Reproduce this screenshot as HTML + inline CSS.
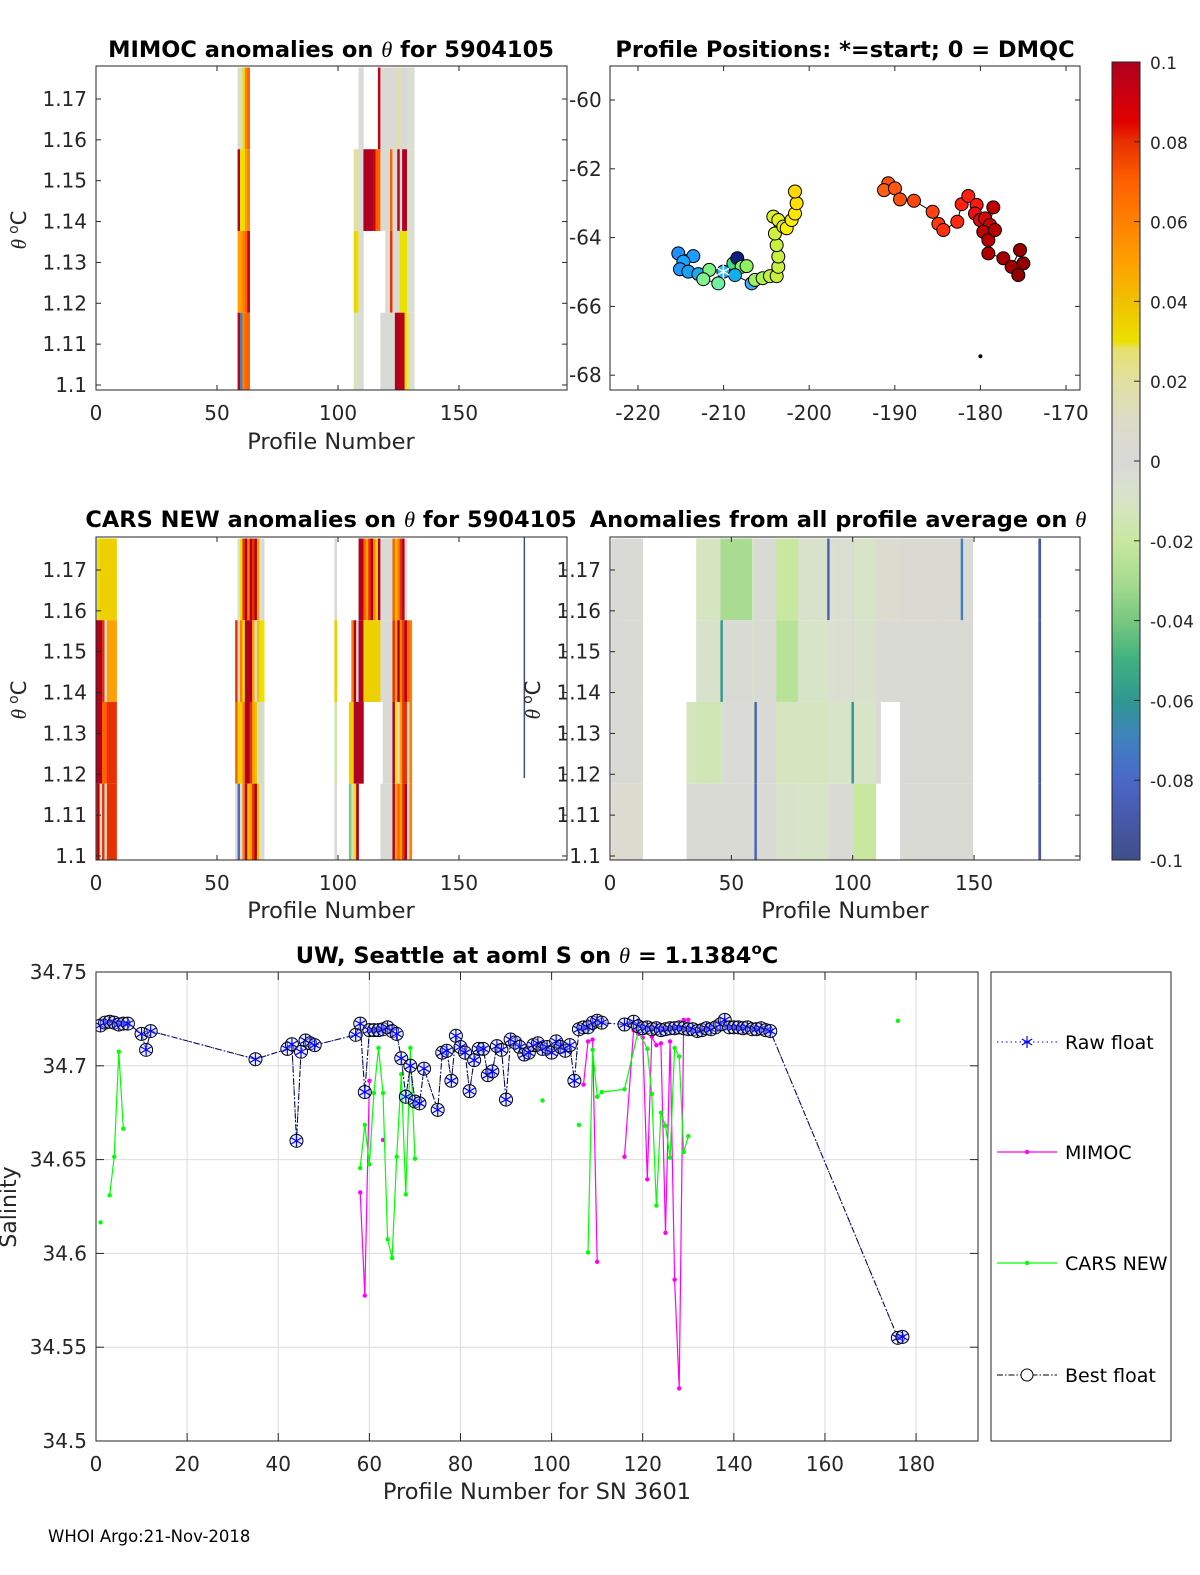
<!DOCTYPE html>
<html><head><meta charset="utf-8"><style>
html,body{margin:0;padding:0;background:#fff;}
svg{display:block;font-family:"DejaVu Sans","Liberation Sans",sans-serif;}
</style></head><body>
<svg id="fig" xmlns="http://www.w3.org/2000/svg" width="1200" height="1575" viewBox="0 0 1200 1575">
<defs>
<clipPath id="c1"><rect x="96" y="66" width="471" height="324"/></clipPath>
<clipPath id="c3"><rect x="96" y="537" width="471" height="323"/></clipPath>
<clipPath id="c4"><rect x="610" y="537" width="470" height="323"/></clipPath>
<clipPath id="c5"><rect x="96" y="972" width="882" height="469"/></clipPath>
<linearGradient id="cbgrad" x1="0" y1="1" x2="0" y2="0"></linearGradient>
</defs>
</svg>
<script>
// ---------- DATA ----------
const rowCenters = [1.1677, 1.1477, 1.1277, 1.1077];
const N = null;
const mimocRuns = [
 [59,59,0.008,0.1,0.05,0.095],[60,60,0.008,0.03,0.05,-0.07],[61,61,0.03,0.03,0.06,0.06],
 [62,62,0.06,0.05,0.07,0.07],[63,63,0.07,0.06,0.09,0.07],
 [107,107,N,0.02,0.035,-0.015],[108,108,N,0.02,0.03,-0.01],[109,110,0.002,0.002,0.002,0.002],
 [111,114,N,0.1,N,N],[115,115,N,0.09,N,N],[116,116,N,0.07,N,N],[117,117,0.095,0.07,N,N],
 [118,119,0.003,0.003,N,0.003],[120,121,0.003,0.003,0.003,0.003],[122,122,0.003,0.07,0.08,0.003],
 [123,123,0.005,0.003,0.003,0.003],[124,124,0.003,0.003,0.003,0.1],[125,125,0.02,0.1,0.003,0.1],
 [126,126,0.01,0.003,0.03,0.095],[127,127,0.003,0.1,0.03,0.1],[128,128,0.003,0.1,0.03,0.03],
 [129,129,-0.005,-0.005,-0.005,0.025],[130,131,-0.005,-0.005,-0.005,-0.005]
];
const carsRuns = [
 [0,0,0.012,0.1,0.1,0.08],[1,1,0.03,0.1,0.1,0.1],[2,2,0.035,0.1,0.1,0.01],[3,3,0.035,0.08,0.07,0.08],
 [4,4,0.035,0.01,0.07,0.01],[5,8,0.035,0.05,0.08,0.08],
 [58,58,N,0.08,0.07,0.005],[59,59,-0.005,0.005,0.035,-0.08],[60,60,0.03,0.06,0.035,0.005],
 [61,61,0.08,0.03,0.06,0.06],[62,62,0.1,0.1,0.1,0.1],[63,63,0.06,0.1,0.1,0.04],[64,64,0.1,0.1,0.08,0.05],
 [65,65,0.08,0.05,0.05,0.08],[66,66,0.1,0.01,0.04,0.1],[67,67,0.05,0.04,0.01,0.04],
 [68,68,-0.01,0.03,-0.02,-0.01],[69,69,0.001,0.03,0.001,0.005],
 [99,99,0.003,0.035,-0.015,0.003],
 [105,105,N,N,0.035,-0.04],[106,106,N,0.06,0.035,0.003],[107,107,N,0.1,0.1,0.03],[108,108,N,0.003,0.1,0.1],
 [109,110,0.1,0.1,0.1,N],[111,111,0.07,0.035,N,N],[112,112,0.05,0.035,N,N],[113,113,0.08,0.035,N,N],
 [114,114,0.1,0.035,N,N],[115,115,0.06,0.035,N,N],[116,116,0.03,0.035,N,N],[117,117,0.1,0.035,N,N],
 [118,118,0.003,0.003,N,0.003],[119,122,0.003,0.003,0.003,0.003],
 [123,123,0.07,0.08,0.1,0.1],[124,124,0.04,0.05,0.03,0.05],[125,125,0.06,0.1,0.01,0.07],
 [126,126,0.08,0.06,0.05,0.05],[127,127,0.1,0.08,0.08,0.08],[128,128,0.005,0.1,0.08,0.1],
 [129,129,N,0.07,0.01,0.01],[130,130,N,0.06,0.06,0.06]
];
const avgRuns = [
 [1,13,0.003,0.003,0.003,0.006],[32,35,N,N,-0.012,0.003],[36,45,-0.012,-0.008,-0.015,0.003],
 [46,46,-0.03,-0.06,-0.01,0.003],[47,58,-0.03,0.003,0.002,0.003],[59,59,-0.01,-0.005,-0.01,0.003],
 [60,60,0.003,0.003,-0.085,-0.085],[61,68,0.003,0.003,0.003,0.003],[69,77,-0.02,-0.025,-0.012,-0.008],
 [78,89,-0.008,-0.01,-0.012,-0.01],[90,90,-0.085,-0.005,-0.01,-0.005],[91,99,-0.005,-0.005,-0.01,0.003],
 [100,100,0.003,0.003,-0.06,0.003],[101,109,-0.01,-0.008,-0.01,-0.02],[110,111,0.005,0.003,0.003,N],
 [112,119,0.006,0.003,N,N],[120,144,0.004,0.003,0.003,0.003],[145,145,-0.07,0.003,0.003,0.003],
 [146,149,0.003,0.003,0.003,0.003],[177,177,-0.09,-0.09,-0.09,-0.09]
];
const cbValues = [-0.1,-0.09,-0.08,-0.07,-0.06,-0.05,-0.04,-0.03,-0.02,-0.01,0,0.01,0.02,0.028,0.03,0.04,0.05,0.06,0.07,0.08,0.085,0.1];
const cbColors = ["#3e5088","#4858a8","#4a68c8","#4080c0","#309890","#40b080","#78c880","#a8dc90","#c8e8a0","#d8e4c8","#d9d9d9","#dcdcc8","#e2e0a0","#e6e070","#ece000","#f0c000","#ffa000","#ff8000","#ff6000","#e83000","#e00000","#b00020"];
const cbTicks = [-0.1,-0.08,-0.06,-0.04,-0.02,0,0.02,0.04,0.06,0.08,0.1];
const cbTickLabels = ["-0.1","-0.08","-0.06","-0.04","-0.02","0","0.02","0.04","0.06","0.08","0.1"];

const posLon = [-215.29,-213.54,-214.70,-215.09,-214.12,-212.95,-211.67,-212.37,-210.62,-210.03,-208.86,-208.40,-207.89,-207.31,-208.67,-206.72,-206.33,-205.44,-204.58,-203.80,-203.61,-203.61,-203.80,-204.00,-204.19,-203.61,-203.02,-202.63,-202.05,-201.66,-201.47,-201.66,
 -190.76,-191.26,-189.98,-189.39,-187.76,-185.58,-184.91,-184.33,-182.70,-182.19,-181.41,-180.44,-180.63,-180.05,-179.46,-178.88,-178.49,-179.66,-179.07,-178.30,-179.07,-177.32,-176.35,-175.37,-174.98,-175.57];
const posLat = [-64.46,-64.54,-64.70,-64.92,-64.99,-65.06,-64.94,-65.21,-65.33,-64.99,-64.75,-64.60,-64.85,-64.83,-65.09,-65.33,-65.23,-65.18,-65.12,-65.12,-64.85,-64.55,-64.22,-63.88,-63.39,-63.49,-63.68,-63.73,-63.49,-63.30,-63.00,-62.66,
 -62.42,-62.62,-62.57,-62.89,-62.93,-63.25,-63.60,-63.78,-63.54,-63.03,-62.79,-63.05,-63.30,-63.49,-63.44,-63.63,-63.12,-63.83,-64.07,-63.78,-64.46,-64.60,-64.85,-64.36,-64.75,-65.09];
const posColors = ["#1e90ff","#1e9cff","#1aa4ff","#1e98ff","#1aa0f0","#1aa8f0","#80f080","#80f090","#70f0a0","#20b0ff","#40e080","#102080","#80f070","#90f060","#10b0f0","#30b0ff","#a0f060","#b0f050","#c0f040","#c8f040","#c8f040","#c8f040","#c8f040","#d0f040","#d8f030","#e0f020","#f0f010","#f8f000","#fff000","#ffe800","#ffe000","#ffd800",
 "#ff5010","#ff6010","#ff5810","#ff5010","#ff4810","#ff4010","#ff3810","#ff3010","#ff2810","#ff2010","#ff2010","#ff1810","#ee1010","#e00808","#d80808","#c80505","#c00000","#c00000","#b80000","#b80000","#b00000","#a80000","#a00000","#980000","#900000","#900000"];
const startIndex = 9;
const extraLon = [-180];
const extraLat = [-67.45];

const bestP = [1,2,3,4,5,6,7,10,11,12,35,42,43,44,45,46,47,48,57,58,59,60,61,62,63,64,65,66,67,68,69,70,71,72,75,76,77,78,79,80,81,82,83,84,85,86,87,88,89,90,91,92,93,94,95,96,97,98,99,100,101,102,103,104,105,106,107,108,109,110,111,116,118,119,120,121,122,123,124,125,126,127,128,129,130,131,132,133,134,135,136,137,138,139,140,141,142,143,144,145,146,147,148,176,177];
const bestS = [34.7215,34.723,34.7235,34.723,34.722,34.7225,34.7225,34.717,34.7085,34.7185,34.7035,34.709,34.7115,34.66,34.7075,34.7135,34.712,34.711,34.7165,34.7225,34.686,34.719,34.719,34.719,34.7195,34.7205,34.7185,34.717,34.704,34.6835,34.700,34.681,34.680,34.6985,34.6765,34.707,34.708,34.692,34.716,34.710,34.707,34.6865,34.703,34.709,34.709,34.695,34.697,34.7105,34.7085,34.682,34.714,34.7125,34.710,34.706,34.707,34.711,34.712,34.709,34.710,34.707,34.713,34.710,34.708,34.711,34.692,34.7195,34.7205,34.7205,34.723,34.724,34.723,34.722,34.7235,34.721,34.720,34.7205,34.7195,34.720,34.719,34.7195,34.720,34.720,34.7205,34.720,34.7195,34.7195,34.7185,34.719,34.720,34.7195,34.7205,34.722,34.7245,34.7205,34.7205,34.7205,34.720,34.7205,34.7195,34.7195,34.720,34.719,34.7185,34.555,34.5555];
const mimocP = [58,59,60,null,63,null,107,108,109,110,null,116,118,119,120,121,122,123,124,125,126,127,128,129,130];
const mimocS = [34.6325,34.5775,34.692,null,34.6605,null,34.690,34.713,34.714,34.5955,null,34.6515,34.719,34.717,34.715,34.6395,34.7155,34.711,34.712,34.611,34.713,34.586,34.528,34.7245,34.7245];
const carsP = [1,null,3,4,5,6,null,58,59,60,61,62,63,64,65,66,67,68,69,70,null,98,null,106,null,108,109,110,111,116,119,121,122,123,124,125,126,127,128,129,130,null,176];
const carsS = [34.6165,null,34.631,34.6515,34.7075,34.6665,null,34.6455,34.6685,34.6475,34.6855,34.7095,34.6855,34.6075,34.5975,34.6515,34.6955,34.6315,34.7095,34.6505,null,34.6815,null,34.6685,null,34.6005,34.7085,34.6835,34.686,34.6875,34.7185,34.709,34.685,34.6255,34.675,34.668,34.651,34.7095,34.705,34.654,34.6625,null,34.724];
const bxTicks = [0,20,40,60,80,100,120,140,160,180];
const byTicks = [34.5,34.55,34.6,34.65,34.7,34.75];
const byTickLabels = ["34.5","34.55","34.6","34.65","34.7","34.75"];
const thTicks = [1.1,1.11,1.12,1.13,1.14,1.15,1.16,1.17];
const thTickLabels = ["1.1","1.11","1.12","1.13","1.14","1.15","1.16","1.17"];
const pTicks = [0,50,100,150];
const lonTicks = [-220,-210,-200,-190,-180,-170];
const latTicks = [-60,-62,-64,-66,-68];

// ---------- HELPERS ----------
const svg = document.getElementById('fig');
const NS = 'http://www.w3.org/2000/svg';
const TICK = 20, TITLE = 22.5, AXT = 22.5;
function el(tag, attrs, parent){ const e=document.createElementNS(NS,tag); for(const k in attrs) e.setAttribute(k,attrs[k]); (parent||svg).appendChild(e); return e; }
function txt(s, x, y, size, anchor, parent, weight){ const t=el('text',{x:x,y:y,'font-size':size,'text-anchor':anchor||'middle',fill:'#262626'},parent); if(weight) t.setAttribute('font-weight',weight); t.textContent=s; return t; }
function hex2rgb(h){return [parseInt(h.slice(1,3),16),parseInt(h.slice(3,5),16),parseInt(h.slice(5,7),16)];}
function cmap(v){
  if(v<=cbValues[0]) return cbColors[0];
  for(let i=1;i<cbValues.length;i++){ if(v<=cbValues[i]){ const t=(v-cbValues[i-1])/(cbValues[i]-cbValues[i-1]); const a=hex2rgb(cbColors[i-1]), b=hex2rgb(cbColors[i]); return 'rgb('+a.map((c,j)=>Math.round(c+(b[j]-c)*t)).join(',')+')'; } }
  return cbColors[cbColors.length-1];
}
function thetaLabel(x,y){
  const t=el('text',{transform:'translate('+x+','+y+') rotate(-90)','font-size':21,'text-anchor':'middle',fill:'#262626'});
  
  
  const a=el('tspan',{'font-family':'Liberation Serif, serif','font-style':'italic'},t); a.textContent='θ ';
  const b=el('tspan',{'font-size':14,dy:-8},t); b.textContent='o';
  const c=el('tspan',{dy:8},t); c.textContent='C';
}
function titleTheta(parts, x, y){
  const t=el('text',{x:x,y:y,'font-size':TITLE,'font-weight':'bold','text-anchor':'middle',fill:'#000'});
  
  
  parts.forEach(p=>{ const s=el('tspan',{},t); if(p[1]==='th'){s.setAttribute('font-family','Liberation Serif, serif');s.setAttribute('font-style','italic');s.setAttribute('font-weight','normal');} if(p[1]==='sup'){s.setAttribute('font-size',15);s.setAttribute('dy',-9);} if(p[1]==='down'){s.setAttribute('dy',9);} s.textContent=p[0]; });
  return t;
}
function box(x0,y0,x1,y1,name){
  const r=el('rect',{x:x0,y:y0,width:x1-x0,height:y1-y0,fill:'none',stroke:'#262626','stroke-width':1});
  
  
}
function heatmap(runs, xs, ys, clip, name){
  const g=el('g',{'clip-path':'url(#'+clip+')'});
  
  
  runs.forEach(r=>{
    for(let p=r[0];p<=r[1];p++){
      for(let i=0;i<4;i++){
        const v=r[2+i]; if(v===null) continue;
        const xa=xs(p-0.5), xb=xs(p+0.5), ya=ys(rowCenters[i]+0.01), yb=ys(rowCenters[i]-0.01);
        const c=el('rect',{x:xa,y:ya,width:xb-xa+0.3,height:yb-ya,fill:cmap(v)},g);
        
        
      }
    }
  });
}
function thetaAxes(x0,y0,x1,y1,xs,ys,labelX,anchor){
  thTicks.forEach((v,i)=>{
    const y=ys(v);
    el('line',{x1:x0,y1:y,x2:x0+5,y2:y,stroke:'#262626'});
    el('line',{x1:x1,y1:y,x2:x1-5,y2:y,stroke:'#262626'});
    const t=txt(thTickLabels[i],labelX,y+7,TICK,anchor);
    
    
  });
  pTicks.forEach(v=>{
    const x=xs(v);
    el('line',{x1:x,y1:y1,x2:x,y2:y1-5,stroke:'#262626'});
    el('line',{x1:x,y1:y0,x2:x,y2:y0+5,stroke:'#262626'});
    const t=txt(String(v),x,y1+30,TICK,'middle');
    
    
  });
}

// ---------- PANEL 1: MIMOC ----------
const xs1=p=>96+p*2.42, ys1=v=>385-(v-1.10)*4086;
heatmap(mimocRuns,xs1,ys1,'c1','mimoc-heatmap');
box(96,66,567,390,'mimoc-axes');
thetaAxes(96,66,567,390,xs1,ys1,87,'end');
titleTheta([['MIMOC anomalies on '],['θ','th'],['  for 5904105']],331,57);
thetaLabel(26,230);
let t1=txt('Profile Number',331,449,AXT,'middle');  

// ---------- PANEL 2: positions ----------
const lx=l=>638+(l+220)*8.56, ly=l=>100+(-60-l)*34.4;
const g2=el('g',{});


let dPath='';
posLon.forEach((l,i)=>{ dPath+=(i===0||i===32?'M':'L')+lx(l).toFixed(1)+' '+ly(posLat[i]).toFixed(1)+' '; });
el('path',{d:dPath,fill:'none',stroke:'#000','stroke-width':1},g2);
posLon.forEach((l,i)=>{
  const c=el('circle',{cx:lx(l),cy:ly(posLat[i]),r:6.5,fill:posColors[i],stroke:'#000','stroke-width':1},g2);
  
  
});
{
  const sx=lx(posLon[startIndex]), sy=ly(posLat[startIndex]);
  const s=el('g',{stroke:'#fff','stroke-width':1.5},g2);
  
  
  [[0,7],[6,3.5],[6,-3.5]].forEach(d=>el('line',{x1:sx-d[0],y1:sy-d[1],x2:sx+d[0],y2:sy+d[1]},s));
}
extraLon.forEach((l,i)=>{ const d=el('circle',{cx:lx(l),cy:ly(extraLat[i]),r:2,fill:'#000'},g2);   });
box(610,66,1080,390,'positions-axes');
latTicks.forEach(v=>{ const y=ly(v); el('line',{x1:610,y1:y,x2:615,y2:y,stroke:'#262626'}); el('line',{x1:1080,y1:y,x2:1075,y2:y,stroke:'#262626'}); const t=txt(String(v),569,y+7,TICK,'start');   });
lonTicks.forEach(v=>{ const x=lx(v); el('line',{x1:x,y1:390,x2:x,y2:385,stroke:'#262626'}); el('line',{x1:x,y1:66,x2:x,y2:71,stroke:'#262626'}); const t=txt(String(v),x,420,TICK,'middle');   });
{ const t=txt('Profile Positions: *=start; 0 = DMQC',845,57,TITLE,'middle',null,'bold'); t.setAttribute('fill','#000');   }

// ---------- COLORBAR ----------
const grad=document.getElementById('cbgrad');
cbValues.forEach((v,i)=>el('stop',{offset:((v+0.1)/0.2).toFixed(4),'stop-color':cbColors[i]},grad));
const cby=v=>860-(v+0.1)*3990;
{ const r=el('rect',{x:1112,y:62,width:28,height:798,fill:'url(#cbgrad)',stroke:'#262626'});   }
cbTicks.forEach((v,i)=>{ const y=cby(v); el('line',{x1:1134,y1:y,x2:1140,y2:y,stroke:'#262626'}); const t=txt(cbTickLabels[i],1150,y+7,17,'start');   });

// ---------- PANEL 3: CARS ----------
const ys3=v=>856-(v-1.10)*4086;
heatmap(carsRuns,xs1,ys3,'c3','cars-heatmap');
{ const l=el('line',{x1:xs1(177),y1:537,x2:xs1(177),y2:778,stroke:'#3e5088','stroke-width':1.5});   }
box(96,537,567,860,'cars-axes');
thetaAxes(96,537,567,860,xs1,ys3,87,'end');
titleTheta([['CARS NEW anomalies on '],['θ','th'],[' for 5904105']],331,527);
thetaLabel(26,700);
let t3=txt('Profile Number',331,918,AXT,'middle');  

// ---------- PANEL 4: all-profile average ----------
const xs4=p=>610+p*2.427;
heatmap(avgRuns,xs4,ys3,'c4','average-heatmap');
box(610,537,1080,860,'average-axes');
thetaAxes(610,537,1080,860,xs4,ys3,601,'end');
titleTheta([['Anomalies from all profile average on '],['θ','th']],838,527);
thetaLabel(540,700);
let t4=txt('Profile Number',845,918,AXT,'middle');  

// ---------- BOTTOM: salinity ----------
const bx=p=>96+p*4.556, by=v=>972+(34.75-v)*1876;
const gg=el('g',{});


bxTicks.forEach(v=>el('line',{x1:bx(v),y1:972,x2:bx(v),y2:1441,stroke:'#dcdcdc'},gg));
byTicks.forEach(v=>el('line',{x1:96,y1:by(v),x2:978,y2:by(v),stroke:'#dcdcdc'},gg));
function pathFrom(P,S){ let d='',pen=false; P.forEach((p,i)=>{ if(p===null||S[i]===null){pen=false;return;} d+=(pen?'L':'M')+bx(p).toFixed(1)+' '+by(S[i]).toFixed(1)+' '; pen=true; }); return d; }
const gs=el('g',{'clip-path':'url(#c5)'});


{ const l=el('path',{d:pathFrom(mimocP,mimocS),fill:'none',stroke:'#ff00ff','stroke-width':1.2},gs);   }
mimocP.forEach((p,i)=>{ if(p===null) return; const c=el('circle',{cx:bx(p),cy:by(mimocS[i]),r:2.2,fill:'#ff00ff'},gs);   });
{ const l=el('path',{d:pathFrom(carsP,carsS),fill:'none',stroke:'#00ff00','stroke-width':1.2},gs);   }
carsP.forEach((p,i)=>{ if(p===null) return; const c=el('circle',{cx:bx(p),cy:by(carsS[i]),r:2.2,fill:'#00ff00'},gs);   });
{ const l=el('path',{d:pathFrom(bestP,bestS),fill:'none',stroke:'#000','stroke-width':1,'stroke-dasharray':'6 2 1.5 2'},gs);   }
{ const l=el('path',{d:pathFrom(bestP,bestS),fill:'none',stroke:'#0000ff','stroke-width':1,'stroke-dasharray':'1.5 3'},gs);   }
bestP.forEach((p,i)=>{
  const x=bx(p), y=by(bestS[i]);
  const c=el('circle',{cx:x,cy:y,r:6.5,fill:'#c8d8ff','fill-opacity':0.35,stroke:'#000','stroke-width':1},gs);
  
  
  const s=el('g',{stroke:'#0000ff','stroke-width':1.2},gs);
  
  
  [[0,6],[5.2,3],[5.2,-3]].forEach(d=>el('line',{x1:x-d[0],y1:y-d[1],x2:x+d[0],y2:y+d[1]},s));
});
box(96,972,978,1441,'salinity-axes');
byTicks.forEach((v,i)=>{ const y=by(v); el('line',{x1:96,y1:y,x2:104,y2:y,stroke:'#262626'}); el('line',{x1:978,y1:y,x2:970,y2:y,stroke:'#262626'}); const t=txt(byTickLabels[i],87,y+7,TICK,'end');   });
bxTicks.forEach(v=>{ const x=bx(v); el('line',{x1:x,y1:1441,x2:x,y2:1433,stroke:'#262626'}); el('line',{x1:x,y1:972,x2:x,y2:980,stroke:'#262626'}); const t=txt(String(v),x,1471,TICK,'middle');   });
titleTheta([['UW, Seattle at aoml S on '],['θ','th'],[' = 1.1384'],['o','sup'],['C','down']],537,963);
{ const t=txt('Profile Number for SN 3601',537,1499,AXT,'middle');   }
{ const t=el('text',{transform:'translate(16,1207) rotate(-90)','font-size':22,'text-anchor':'middle',fill:'#262626'}); t.textContent='Salinity';   }

// ---------- LEGEND ----------
const lg=el('g',{});


el('rect',{x:991,y:972,width:180,height:469,fill:'#fff',stroke:'#262626'},lg);
function legendEntry(y,label,draw,name){
  const g=el('g',{},lg);
  
  
  draw(g,y);
  txt(label,1065,y+7,19,'start',g).setAttribute('fill','#000');
}
legendEntry(1042,'Raw float',(g,y)=>{ el('line',{x1:997,y1:y,x2:1057,y2:y,stroke:'#0000ff','stroke-dasharray':'1.5 3'},g); const s=el('g',{stroke:'#0000ff','stroke-width':1.2},g); [[0,6],[5.2,3],[5.2,-3]].forEach(d=>el('line',{x1:1027-d[0],y1:y-d[1],x2:1027+d[0],y2:y+d[1]},s)); },'legend-raw-float');
legendEntry(1152,'MIMOC',(g,y)=>{ el('line',{x1:997,y1:y,x2:1057,y2:y,stroke:'#ff00ff','stroke-width':1.2},g); el('circle',{cx:1027,cy:y,r:2.2,fill:'#ff00ff'},g); },'legend-mimoc');
legendEntry(1263,'CARS NEW',(g,y)=>{ el('line',{x1:997,y1:y,x2:1057,y2:y,stroke:'#00ff00','stroke-width':1.2},g); el('circle',{cx:1027,cy:y,r:2.2,fill:'#00ff00'},g); },'legend-cars-new');
legendEntry(1375,'Best float',(g,y)=>{ el('line',{x1:997,y1:y,x2:1057,y2:y,stroke:'#000','stroke-dasharray':'6 2 1.5 2'},g); el('circle',{cx:1027,cy:y,r:6,fill:'#fff',stroke:'#000'},g); },'legend-best-float');

// ---------- FOOTER ----------
{ const t=txt('WHOI Argo:21-Nov-2018',48,1542,16.5,'start'); t.setAttribute('fill','#000');   }
</script>
</body></html>
